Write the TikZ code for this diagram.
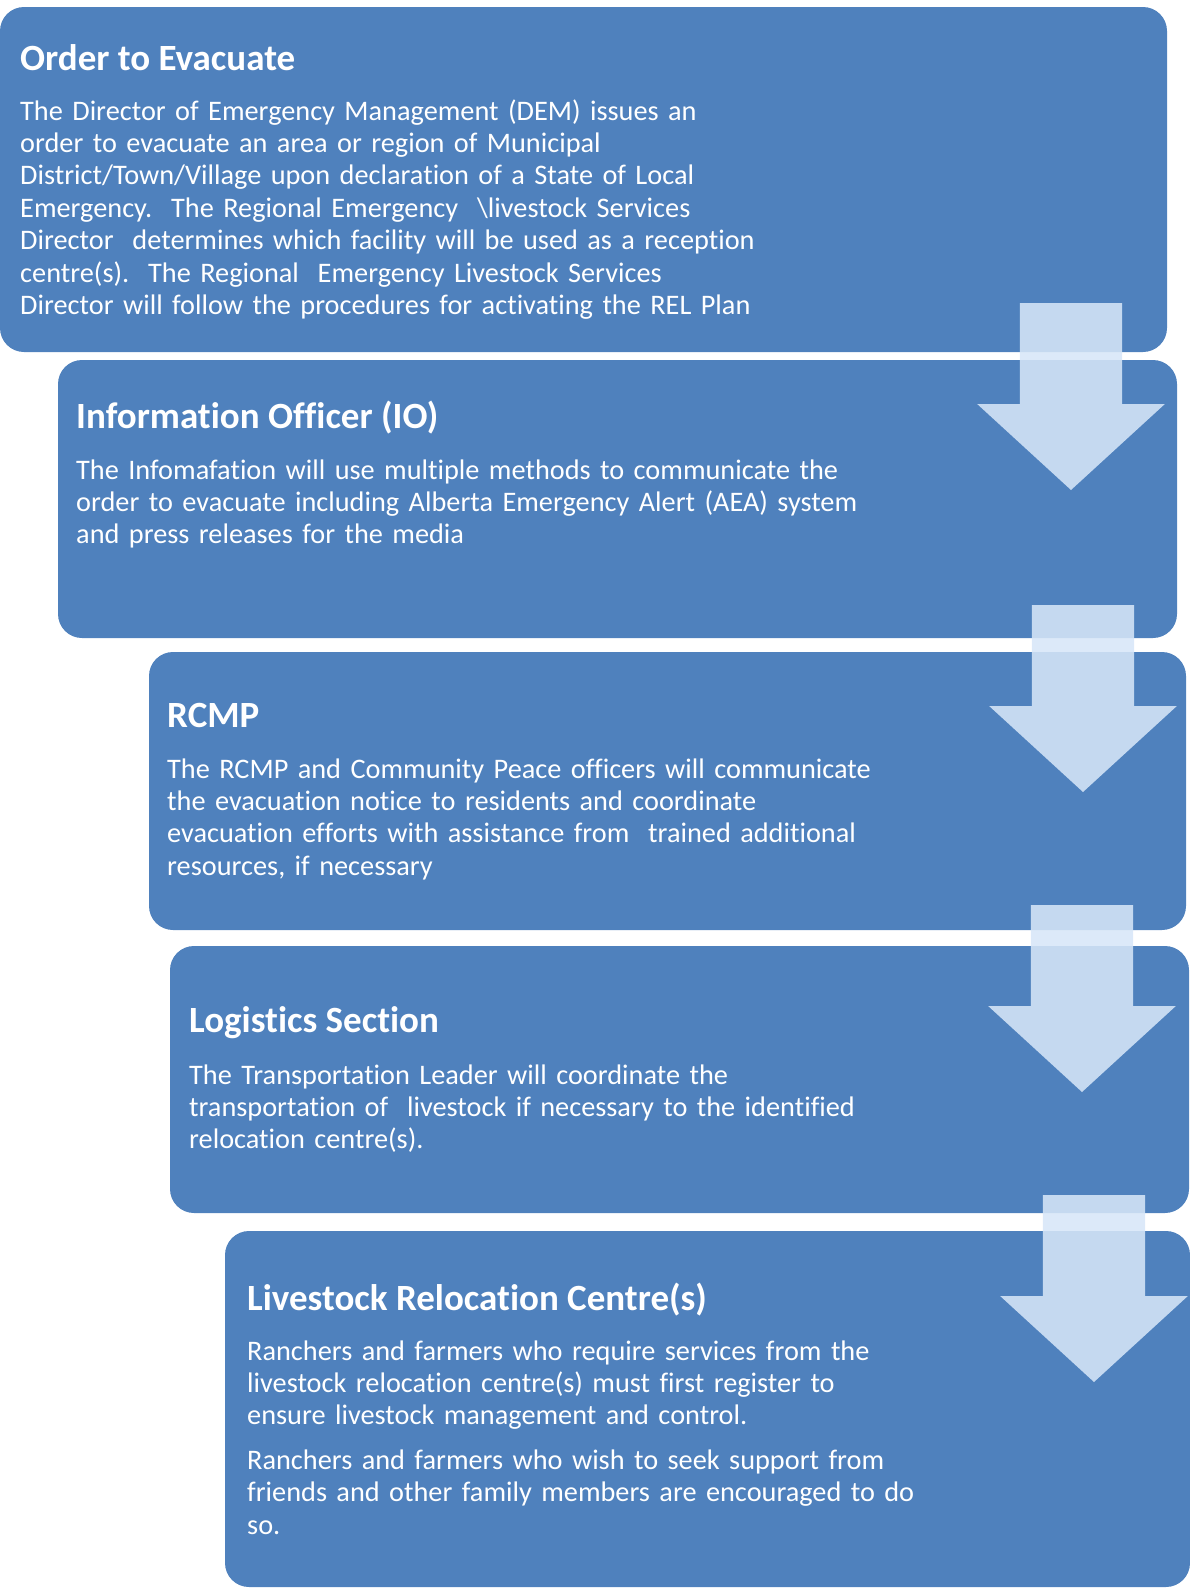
\documentclass[tikz,border=0pt]{standalone}
\usepackage{fontspec}
\setmainfont{Carlito}[Ligatures=NoCommon]
\usepackage{xcolor}
\usepackage{tikz}
\usetikzlibrary{shapes.arrows}

\definecolor{stageblue}{RGB}{79,129,189}
\definecolor{arrowblue}{RGB}{215,230,248}

\begin{document}
\begin{tikzpicture}[
    x=1pt, y=-1pt,
    stage/.style={fill=stageblue, rounded corners=24pt, anchor=north west, inner sep=0pt, outer sep=0pt},
    heading/.style={text=white, anchor=base west, inner sep=0pt, font=\fontsize{37}{40}\selectfont\bfseries},
    detail/.style={text=white, anchor=base west, inner sep=0pt, text width=900pt, align=left, font=\fontsize{28.3}{32.4}\selectfont},
    flow/.style={shape=single arrow, rotate=-90, anchor=tail, fill=arrowblue, fill opacity=0.875, draw=none,
        minimum height=187pt, inner xsep=0pt, inner ysep=51pt, single arrow head extend=42.5pt,
        single arrow tip angle=95, outer sep=0pt}
]
\useasboundingbox (0,0) rectangle (1190,1590);

% the five stages, each one shifted a little to the right
\node[stage, minimum width=1167pt, minimum height=345pt] (order) at (0,7) {};
\node[stage, minimum width=1119pt, minimum height=278pt] (info) at (58,360) {};
\node[stage, minimum width=1037pt, minimum height=278pt] (rcmp) at (149,652) {};
\node[stage, minimum width=1019pt, minimum height=267pt] (logistics) at (170,946) {};
\node[stage, minimum width=965pt, minimum height=356pt] (relocation) at (225,1231) {};

% texts
\node[heading] (orderT) at (20,70) {Order to Evacuate};
\node[detail] (orderD) at (20,120) {The Director of Emergency Management (DEM) issues an\\
order to evacuate an area or region of Municipal\\
District/Town/Village upon declaration of a State of Local\\
Emergency.\ \ The Regional Emergency\ \ \textbackslash livestock Services\\
Director\ \ determines which facility will be used as a reception\\
centre(s).\ \ The Regional\ \ Emergency Livestock Services\\
Director will follow the procedures for activating the REL Plan};

\node[heading] (infoT) at (76,428) {Information Officer (IO)};
\node[detail] (infoD) at (76,479) {The Infomafation will use multiple methods to communicate the\\
order to evacuate including Alberta Emergency Alert (AEA) system\\
and press releases for the media};

\node[heading] (rcmpT) at (167,727) {RCMP};
\node[detail] (rcmpD) at (167,778) {The RCMP and Community Peace officers will communicate\\
the evacuation notice to residents and coordinate\\
evacuation efforts with assistance from\ \ trained additional\\
resources, if necessary};

\node[heading] (logisticsT) at (189,1032) {Logistics Section};
\node[detail] (logisticsD) at (189,1084) {The Transportation Leader will coordinate the\\
transportation of\ \ livestock if necessary to the identified\\
relocation centre(s).};

\node[heading] (relocationT) at (247,1310) {Livestock Relocation Centre(s)};
\node[detail] (relocationD) at (247,1360) {Ranchers and farmers who require services from the\\
livestock relocation centre(s) must first register to\\
ensure livestock management and control.\\[12pt]
Ranchers and farmers who wish to seek support from\\
friends and other family members are encouraged to do\\
so.};

% down arrows between the stages
\node[flow] (a1) at (1071,303) {};
\node[flow] (a2) at (1083,605) {};
\node[flow] (a3) at (1082,905) {};
\node[flow] (a4) at (1094,1195) {};
\end{tikzpicture}
\end{document}
